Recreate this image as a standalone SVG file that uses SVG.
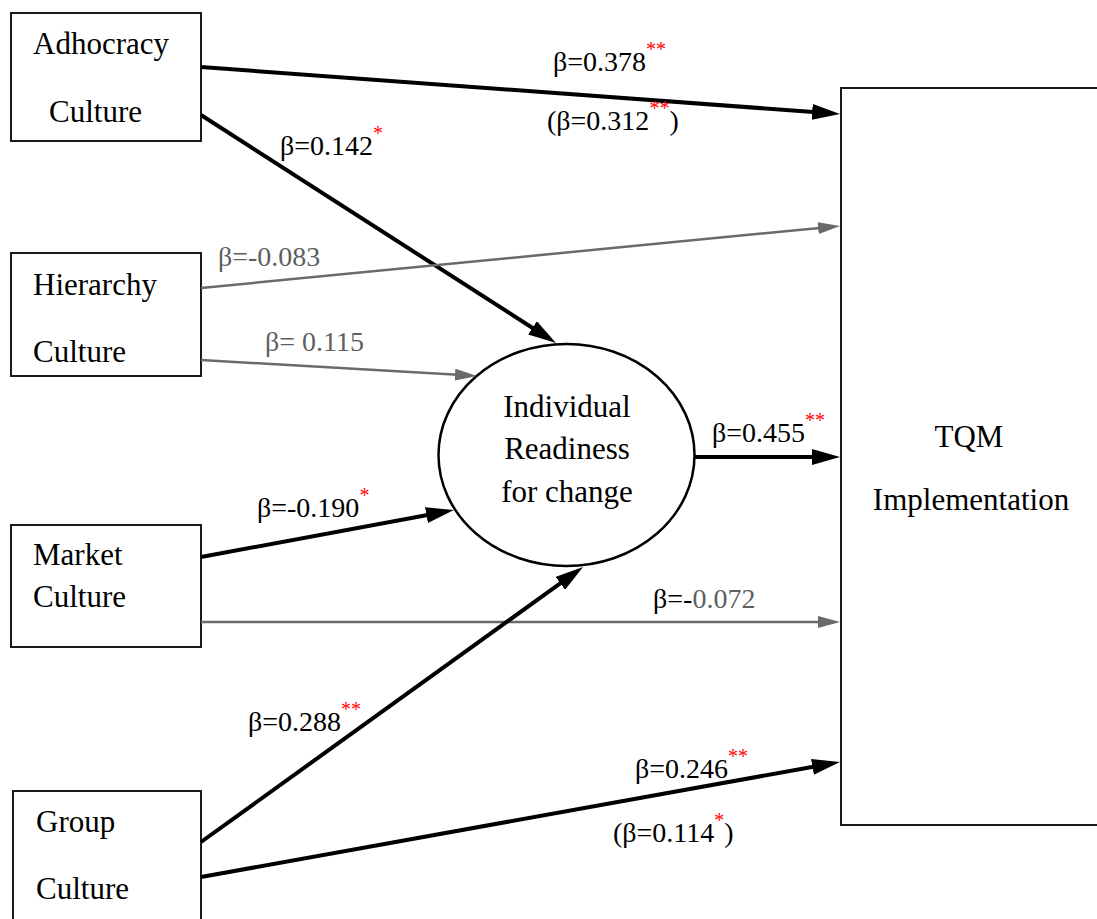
<svg xmlns="http://www.w3.org/2000/svg" width="1097" height="919" viewBox="0 0 1097 919" font-family="Liberation Serif">
<style>
.box{fill:#fff;stroke:#1a1a1a;stroke-width:2}
.gl{fill:#5f5f5f}
.st{fill:#ff0000}
.blk{stroke:#000;stroke-width:4;fill:none}
.gry{stroke:#6a6a6a;stroke-width:2.5;fill:none}
</style>
<defs>
<marker id="ab" markerUnits="userSpaceOnUse" markerWidth="28" markerHeight="16" refX="8" refY="8" orient="auto"><path d="M0,0 L28,8 L0,16 z" fill="#000"/></marker>
<marker id="ag" markerUnits="userSpaceOnUse" markerWidth="22" markerHeight="12" refX="7" refY="6" orient="auto"><path d="M0,0 L22,6 L0,12 z" fill="#6a6a6a"/></marker>
</defs>
<rect width="1097" height="919" fill="#fff"/>
<g id="adhocracy" font-family="Liberation Serif" font-size="31"><rect class="box" x="11" y="13" width="190" height="128"/><text x="33" y="54">Adhocracy</text><text x="49" y="122">Culture</text></g>
<g id="hierarchy" font-family="Liberation Serif" font-size="31"><rect class="box" x="11" y="253" width="190" height="123"/><text x="33" y="295">Hierarchy</text><text x="33" y="362">Culture</text></g>
<g id="market" font-family="Liberation Serif" font-size="31"><rect class="box" x="11" y="525" width="190" height="122"/><text x="33" y="565">Market</text><text x="33" y="607">Culture</text></g>
<g id="group" font-family="Liberation Serif" font-size="31"><rect class="box" x="13" y="791" width="188" height="140"/><text x="36" y="832">Group</text><text x="36" y="899">Culture</text></g>
<g id="readiness" font-family="Liberation Serif" font-size="31" text-anchor="middle"><ellipse cx="566.5" cy="455" rx="128" ry="111" fill="#fff" stroke="#000" stroke-width="2.5"/><text x="567" y="417">Individual</text><text x="567" y="459">Readiness</text><text x="567" y="502">for change</text></g>
<g id="tqm" font-family="Liberation Serif" font-size="31" text-anchor="middle"><rect class="box" x="841" y="88" width="270" height="737"/><text x="969" y="447">TQM</text><text x="971" y="510">Implementation</text></g>
<g id="connectors">
<path class="blk" marker-end="url(#ab)" d="M201,67 L820.1,112.5"/>
<path class="blk" marker-end="url(#ab)" d="M201,115 L539.2,332.2"/>
<path class="gry" marker-end="url(#ag)" d="M201,288 L825.1,227.4"/>
<path class="gry" marker-end="url(#ag)" d="M201,360 L462,375.1"/>
<path class="blk" marker-end="url(#ab)" d="M695,457 L820,457"/>
<path class="blk" marker-end="url(#ab)" d="M201,557 L434.3,513.7"/>
<path class="gry" marker-end="url(#ag)" d="M201,622 L825,622"/>
<path class="blk" marker-end="url(#ab)" d="M201,842 L566.8,578.7"/>
<path class="blk" marker-end="url(#ab)" d="M201,877 L820.3,765.5"/>
</g>
<g id="labels" font-family="Liberation Serif" font-size="28">
<text x="553" y="71">β=0.378<tspan class="st" font-size="20" dy="-15">**</tspan></text>
<text x="547" y="130">(β=0.312<tspan class="st" font-size="20" dy="-15">**</tspan><tspan dy="15">)</tspan></text>
<text x="280" y="155">β=0.142<tspan class="st" font-size="20" dy="-15">*</tspan></text>
<text class="gl" x="218" y="266">β=-0.083</text>
<text class="gl" x="265" y="351">β= 0.115</text>
<text x="712" y="442">β=0.455<tspan class="st" font-size="20" dy="-15">**</tspan></text>
<text x="257" y="517">β=-0.190<tspan class="st" font-size="20" dy="-15">*</tspan></text>
<text x="653" y="608">β=-<tspan class="gl">0.072</tspan></text>
<text x="248" y="731">β=0.288<tspan class="st" font-size="20" dy="-15">**</tspan></text>
<text x="635" y="778">β=0.246<tspan class="st" font-size="20" dy="-15">**</tspan></text>
<text x="613" y="842">(β=0.114<tspan class="st" font-size="20" dy="-15">*</tspan><tspan dy="15">)</tspan></text>
</g>
</svg>
